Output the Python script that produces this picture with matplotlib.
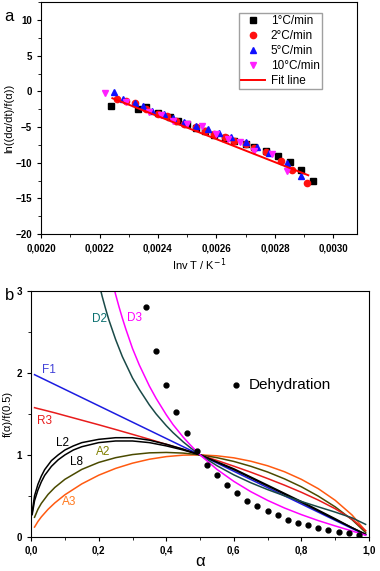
import matplotlib.pyplot as plt
from matplotlib.ticker import MultipleLocator, FuncFormatter

plt.rcParams['font.family'] = ['Liberation Sans', 'DejaVu Sans']

# panel a: Arrhenius-type plot
sq_x = [0.00224, 0.00233, 0.00236, 0.00240, 0.00244, 0.00247, 0.00250, 0.00253, 0.00256,
        0.00259, 0.00263, 0.00266, 0.00270, 0.00273, 0.00277, 0.00281, 0.00285, 0.00289, 0.00293]
sq_y = [-2.0, -2.4, -2.2, -3.0, -3.6, -4.1, -4.6, -5.1, -5.6,
        -6.1, -6.5, -6.9, -7.3, -7.8, -8.4, -9.1, -9.9, -11.0, -12.5]
ci_x = [0.00226, 0.00229, 0.00232, 0.00236, 0.00240, 0.00243, 0.00246, 0.00249, 0.00253,
        0.00256, 0.00259, 0.00263, 0.00266, 0.00270, 0.00273, 0.00277, 0.00282, 0.00286, 0.00291]
ci_y = [-1.0, -1.4, -1.6, -2.5, -3.1, -3.5, -4.1, -4.6, -5.0,
        -5.5, -6.0, -6.4, -6.9, -7.4, -7.9, -8.5, -9.8, -11.0, -12.9]
tu_x = [0.00225, 0.00228, 0.00232, 0.00235, 0.00238, 0.00242, 0.00245, 0.00249, 0.00253,
        0.00257, 0.00261, 0.00265, 0.00270, 0.00274, 0.00278, 0.00284, 0.00289]
tu_y = [-0.1, -1.0, -1.6, -2.1, -2.7, -3.2, -3.7, -4.3, -4.8,
        -5.3, -5.8, -6.4, -7.1, -7.8, -8.6, -10.0, -11.8]
td_x = [0.00222, 0.00229, 0.00237, 0.00241, 0.00245, 0.00250, 0.00255, 0.00260, 0.00264,
        0.00268, 0.00273, 0.00279, 0.00284]
td_y = [-0.2, -1.5, -2.9, -3.3, -4.1, -4.5, -4.9, -6.0, -6.6, -7.1, -8.4, -8.8, -11.2]
fit_x = [0.002244, 0.002914]
fit_y = [-0.95, -11.75]

# panel b: normalised kinetic model curves
a_grid = [0.01, 0.02, 0.03, 0.05, 0.07, 0.1, 0.15, 0.2, 0.25, 0.3, 0.35, 0.4, 0.45, 0.5,
          0.55, 0.6, 0.65, 0.7, 0.75, 0.8, 0.85, 0.9, 0.95, 0.99]
f1_y = [1.98, 1.96, 1.94, 1.90, 1.86, 1.80, 1.70, 1.60, 1.50, 1.40, 1.30, 1.20, 1.10, 1.00,
        0.90, 0.80, 0.70, 0.60, 0.50, 0.40, 0.30, 0.20, 0.10, 0.02]
r3_y = [1.577, 1.566, 1.556, 1.535, 1.514, 1.480, 1.424, 1.368, 1.310, 1.251, 1.191, 1.129,
        1.066, 1.00, 0.932, 0.862, 0.789, 0.711, 0.630, 0.543, 0.448, 0.342, 0.215, 0.074]
a2_y = [0.238, 0.335, 0.407, 0.517, 0.602, 0.702, 0.823, 0.908, 0.966, 1.004, 1.025, 1.030,
        1.022, 1.00, 0.966, 0.920, 0.861, 0.791, 0.707, 0.610, 0.496, 0.365, 0.208, 0.052]
a3_y = [0.118, 0.186, 0.242, 0.335, 0.413, 0.513, 0.646, 0.752, 0.835, 0.899, 0.947, 0.979,
        0.997, 1.00, 0.989, 0.964, 0.923, 0.867, 0.794, 0.701, 0.587, 0.445, 0.265, 0.071]
d2_a = [0.19, 0.2, 0.21, 0.22, 0.23, 0.25, 0.27, 0.3, 0.32, 0.35, 0.37, 0.4, 0.42, 0.45,
        0.47, 0.5, 0.55, 0.6, 0.65, 0.7, 0.75, 0.8, 0.85, 0.9, 0.95, 0.99]
d2_y = [3.29, 3.11, 2.94, 2.79, 2.65, 2.41, 2.20, 1.94, 1.80, 1.61, 1.50, 1.357, 1.272,
        1.159, 1.092, 1.00, 0.868, 0.756, 0.660, 0.576, 0.500, 0.431, 0.365, 0.301, 0.231, 0.151]
d3_a = [0.24, 0.25, 0.26, 0.27, 0.28, 0.3, 0.32, 0.35, 0.37, 0.4, 0.42, 0.45, 0.47, 0.5,
        0.55, 0.6, 0.65, 0.7, 0.75, 0.8, 0.85, 0.9, 0.95, 0.99]
d3_y = [3.12, 2.96, 2.81, 2.67, 2.54, 2.30, 2.10, 1.84, 1.69, 1.49, 1.37, 1.217, 1.126, 1.00,
        0.823, 0.676, 0.551, 0.444, 0.351, 0.270, 0.197, 0.132, 0.070, 0.019]
l_a = [0.003, 0.01, 0.02, 0.03, 0.04, 0.06, 0.08, 0.1, 0.125, 0.15, 0.2, 0.25, 0.3, 0.35,
       0.4, 0.45, 0.5, 0.6, 0.7, 0.8, 0.9, 0.95, 0.99]
l2_y = [0.30, 0.50, 0.64, 0.74, 0.82, 0.93, 1.00, 1.06, 1.11, 1.15, 1.19, 1.21, 1.21, 1.18,
        1.13, 1.07, 1.00, 0.82, 0.62, 0.42, 0.21, 0.11, 0.03]
l8_y = [0.27, 0.44, 0.57, 0.67, 0.75, 0.86, 0.94, 1.00, 1.06, 1.10, 1.15, 1.17, 1.17, 1.15,
        1.11, 1.06, 1.00, 0.83, 0.63, 0.43, 0.22, 0.11, 0.03]
dehy_a = [0.34, 0.37, 0.40, 0.43, 0.46, 0.49, 0.52, 0.55, 0.58, 0.61, 0.64,
          0.67, 0.70, 0.73, 0.76, 0.79, 0.82, 0.85, 0.88, 0.91, 0.94, 0.97]
dehy_y = [2.81, 2.27, 1.85, 1.53, 1.27, 1.05, 0.88, 0.75, 0.63, 0.53, 0.44,
          0.37, 0.31, 0.26, 0.21, 0.17, 0.14, 0.11, 0.08, 0.06, 0.04, 0.02]

comma = FuncFormatter(lambda v, p: ('%.4f' % v).replace('.', ','))
comma1 = FuncFormatter(lambda v, p: ('%.1f' % v).replace('.', ','))
tick_kw = dict(direction='out', labelsize=7)

fig = plt.figure(figsize=(3.8, 5.71), dpi=100)

# ---- panel a ----
ax1 = fig.add_axes([0.108, 0.590, 0.831, 0.406])
ax1.plot(sq_x, sq_y, 's', color='black', ms=4.5, label='1°C/min')
ax1.plot(ci_x, ci_y, 'o', color='#ff1010', ms=4.5, label='2°C/min')
ax1.plot(tu_x, tu_y, '^', color='#1010ff', ms=5, label='5°C/min')
ax1.plot(td_x, td_y, 'v', color='#ff20ff', ms=5, label='10°C/min')
ax1.plot(fit_x, fit_y, '-', color='#ff0000', lw=1.4, label='Fit line')
ax1.set_xlim(0.0020, 0.00308)
ax1.set_ylim(-20, 12.5)
ax1.xaxis.set_major_locator(MultipleLocator(0.0002))
ax1.xaxis.set_minor_locator(MultipleLocator(0.0001))
ax1.yaxis.set_major_locator(MultipleLocator(5))
ax1.yaxis.set_minor_locator(MultipleLocator(2.5))
ax1.xaxis.set_major_formatter(comma)
ax1.tick_params(which='both', **tick_kw)
ax1.tick_params(which='major', length=3)
ax1.tick_params(which='minor', length=2)
for lab in ax1.get_xticklabels() + ax1.get_yticklabels():
    lab.set_fontweight('bold')
ax1.set_xlabel('Inv T / K$^{-1}$', fontsize=8, labelpad=2)
ax1.set_ylabel('ln((dα/dt)/f(α))', fontsize=8, labelpad=1)
ax1.legend(loc='upper right', bbox_to_anchor=(0.89, 0.955), fontsize=8.5,
           frameon=True, fancybox=False, edgecolor='#888888', handlelength=2.0,
           borderpad=0.2, labelspacing=0.25, handletextpad=0.5, borderaxespad=0)
fig.text(0.012, 0.985, 'a', fontsize=12, va='top')

# ---- panel b ----
ax2 = fig.add_axes([0.082, 0.060, 0.889, 0.430])
ax2.plot(a_grid, a3_y, color='#ff5a10', lw=1.1)
ax2.plot(a_grid, a2_y, color='#4a4a00', lw=1.1)
ax2.plot(a_grid, r3_y, color='#e81c1c', lw=1.1)
ax2.plot(a_grid, f1_y, color='#1c1ce0', lw=1.1)
ax2.plot(l_a, l2_y, color='black', lw=1.1)
ax2.plot(l_a, l8_y, color='black', lw=1.1)
ax2.plot(d2_a, d2_y, color='#1a4a48', lw=1.1)
ax2.plot(d3_a, d3_y, color='#ff00ff', lw=1.1)
ax2.plot(dehy_a, dehy_y, 'o', color='black', ms=3.5)
ax2.plot([0.605], [1.86], 'o', color='black', ms=3.5)
ax2.text(0.645, 1.86, 'Dehydration', fontsize=11, va='center')
ax2.set_xlim(0, 1.0)
ax2.set_ylim(0, 3)
ax2.xaxis.set_major_locator(MultipleLocator(0.2))
ax2.xaxis.set_minor_locator(MultipleLocator(0.1))
ax2.yaxis.set_major_locator(MultipleLocator(1))
ax2.yaxis.set_minor_locator(MultipleLocator(0.5))
ax2.xaxis.set_major_formatter(comma1)
ax2.tick_params(which='both', **tick_kw)
ax2.tick_params(which='major', length=3)
ax2.tick_params(which='minor', length=2)
for lab in ax2.get_xticklabels() + ax2.get_yticklabels():
    lab.set_fontweight('bold')
ax2.set_xlabel('α', fontsize=12, labelpad=-1)
ax2.set_ylabel('f(α)/f(0.5)', fontsize=8, labelpad=3)

labels = [('D2', 0.203, 2.66, '#0a7070'), ('D3', 0.307, 2.67, '#ff00ff'),
          ('F1', 0.054, 2.04, '#4040d8'), ('R3', 0.039, 1.42, '#e81c1c'),
          ('L2', 0.093, 1.15, 'black'), ('L8', 0.134, 0.91, 'black'),
          ('A2', 0.212, 1.03, '#808000'), ('A3', 0.113, 0.43, '#ff7a20')]
for name, x, y, c in labels:
    ax2.text(x, y, name, color=c, fontsize=8.5, ha='center', va='center')
fig.text(0.012, 0.495, 'b', fontsize=12, va='top')

fig.savefig('out.png', dpi=100)
